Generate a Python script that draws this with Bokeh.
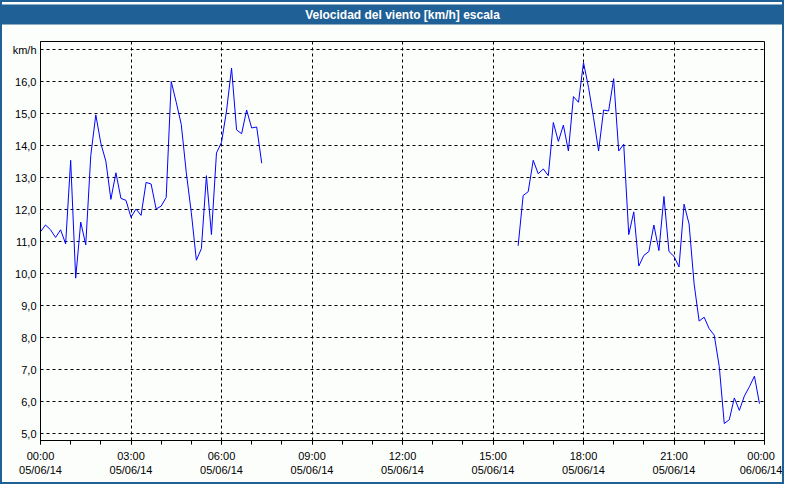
import numpy as np
import pandas as pd
from bokeh.plotting import figure
from bokeh.models import ColumnDataSource, FixedTicker, Range1d, Title
from bokeh.embed import file_html
from bokeh.resources import INLINE

# ---- data (km/h, 10-minute samples) ----
day_start = "2014-06-05 00:00"
seg1_start = "2014-06-05 00:00"
seg2_start = "2014-06-05 15:50"
sample_step = "10min"

seg1_values = [11.31, 11.52, 11.37, 11.13, 11.37, 10.93, 13.54, 9.86, 11.61, 10.90,
               13.69, 14.96, 14.07, 13.51, 12.32, 13.15, 12.35, 12.29, 11.76, 12.02,
               11.82, 12.85, 12.80, 12.02, 12.11, 12.38, 16.00, 15.35, 14.66, 13.15,
               11.90, 10.42, 10.78, 13.06, 11.22, 13.77, 14.10, 15.08, 16.42, 14.49,
               14.37, 15.11, 14.55, 14.58, 13.45]

seg2_values = [10.87, 12.44, 12.56, 13.54, 13.12, 13.27, 13.06, 14.72, 14.13, 14.64,
               13.83, 15.53, 15.35, 16.59, 15.82, 14.87, 13.83, 15.11, 15.08, 16.09,
               13.83, 14.04, 11.22, 11.93, 10.24, 10.57, 10.69, 11.52, 10.72, 12.41,
               10.69, 10.54, 10.21, 12.17, 11.55, 9.68, 8.52, 8.64, 8.28, 8.08,
               7.10, 5.32, 5.44, 6.12, 5.73, 6.18, 6.47, 6.80, 5.94]

x_tick_hours = [0, 3, 6, 9, 12, 15, 18, 21, 24]
x_tick_times = ["00:00", "03:00", "06:00", "09:00", "12:00", "15:00", "18:00", "21:00", "00:00"]
x_tick_dates = ["05/06/14"] * 8 + ["06/06/14"]
y_ticks = [5, 6, 7, 8, 9, 10, 11, 12, 13, 14, 15, 16, 17]
y_tick_labels = ["5,0", "6,0", "7,0", "8,0", "9,0", "10,0", "11,0", "12,0", "13,0",
                 "14,0", "15,0", "16,0", "km/h"]

title_text = "Velocidad del viento [km/h] escala"

# ---- build series ----
t0 = pd.Timestamp(day_start)
t1 = pd.date_range(seg1_start, periods=len(seg1_values), freq=sample_step)
t2 = pd.date_range(seg2_start, periods=len(seg2_values), freq=sample_step)
h1 = ((t1 - t0) / pd.Timedelta(hours=1)).to_numpy()
h2 = ((t2 - t0) / pd.Timedelta(hours=1)).to_numpy()
hours = np.concatenate([h1, [np.nan], h2])
vals = np.concatenate([seg1_values, [np.nan], seg2_values])
src = ColumnDataSource(data=dict(h=hours, v=vals))

FONT = "Liberation Sans"
BG = "#fcfefc"
BLUE = "#1f6096"
W, H = 780, 480

p = figure(width=W, height=H, output_backend="svg", toolbar_location=None, title=None,
           x_range=Range1d(0, 24), y_range=Range1d(4.79, 17.25),
           min_border_left=38, min_border_right=22, min_border_top=30,
           min_border_bottom=46)

p.background_fill_color = BG
p.border_fill_color = BG
p.outline_line_color = "black"
p.outline_line_width = 1
p.styles = {"border": "2px solid " + BLUE, "box-sizing": "content-box"}

# spacer between frame and title bar, then the title bar itself
spacer = Title(text=" ", text_font=FONT, text_font_size="13px", standoff=0, offset=0)
p.add_layout(spacer, "above")
bar = Title(text=title_text, align="center", text_color="white", text_font=FONT,
            text_font_style="bold", text_font_size="12px",
            background_fill_color=BLUE, padding=(400, 3), standoff=0, offset=0)
p.add_layout(bar, "above")

p.line("h", "v", source=src, line_color="#0000ff", line_width=1)

# grids
p.xgrid.ticker = FixedTicker(ticks=x_tick_hours)
p.ygrid.ticker = FixedTicker(ticks=y_ticks)
for g in (p.xgrid, p.ygrid):
    g.grid_line_color = "black"
    g.grid_line_dash = "3 3"
    g.grid_line_width = 1

# x axis
xa = p.xaxis[0]
xa.ticker = FixedTicker(ticks=x_tick_hours, minor_ticks=list(range(0, 25)))
xa.major_label_overrides = {h: f"{t}\n{d}" for h, t, d in zip(x_tick_hours, x_tick_times, x_tick_dates)}
xa.major_tick_out = 4
xa.major_tick_in = 0
xa.minor_tick_out = 4
xa.minor_tick_in = 0
xa.axis_line_color = "black"
xa.major_tick_line_color = "black"
xa.minor_tick_line_color = "black"
xa.major_label_text_font = FONT
xa.major_label_text_font_size = "11px"
xa.major_label_text_color = "black"
xa.major_label_standoff = 5

# y axis
ya = p.yaxis[0]
ya.ticker = FixedTicker(ticks=y_ticks)
ya.major_label_overrides = {t: l for t, l in zip(y_ticks, y_tick_labels)}
ya.major_tick_out = 0
ya.major_tick_in = 0
ya.minor_tick_out = 0
ya.minor_tick_in = 0
ya.axis_line_color = "black"
ya.major_label_text_font = FONT
ya.major_label_text_font_size = "11px"
ya.major_label_text_color = "black"
ya.major_label_standoff = 4

open("out.html", "w").write(file_html(p, INLINE))
